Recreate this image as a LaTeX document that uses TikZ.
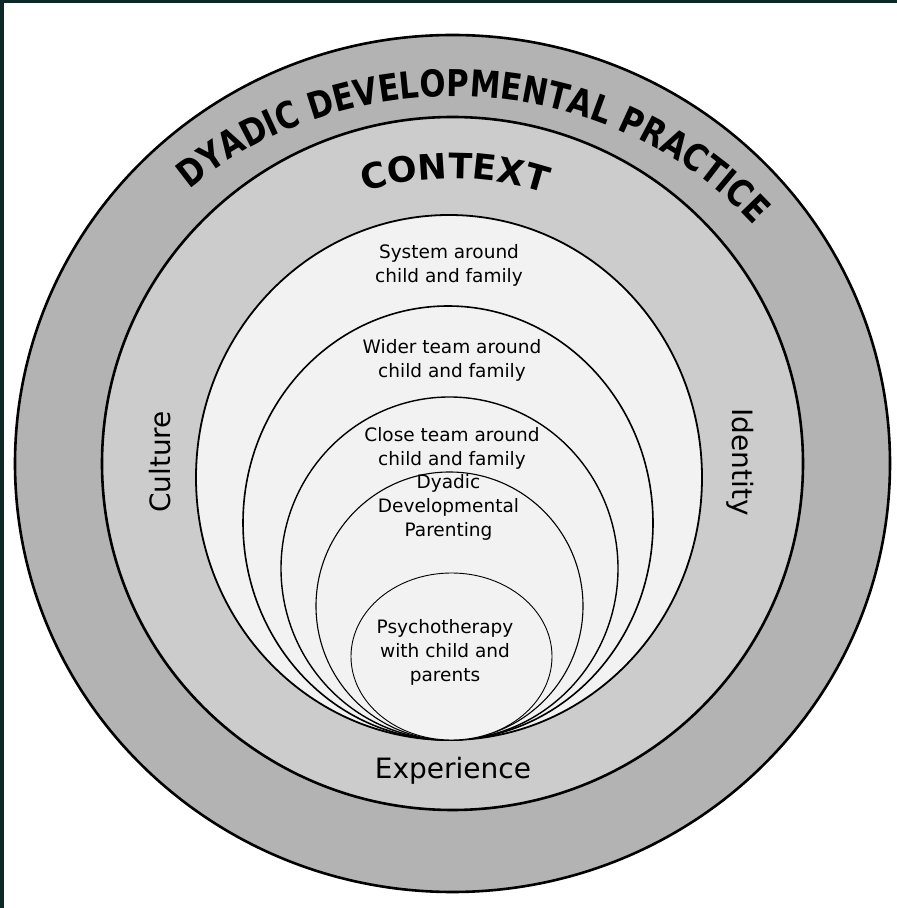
\documentclass[tikz,border=0pt]{standalone}
\usepackage{fontspec}
\setmainfont{DejaVu Sans}
\newfontfamily\arcfam{DejaVu Sans}[FakeStretch=0.83]
\usepackage{tikz}
\usetikzlibrary{decorations.text,positioning}

\definecolor{ringdark}{HTML}{B3B3B3}
\definecolor{ringlight}{HTML}{CCCCCC}
\definecolor{innerfill}{HTML}{F2F2F2}
\definecolor{framecol}{HTML}{0E2828}
\newcommand\arcstyle{\arcfam\bfseries\fontsize{37}{42}\selectfont}
\newcommand\ctxstyle{\bfseries\fontsize{35}{40}\selectfont}

\begin{document}
\begin{tikzpicture}
[x=1pt,y=1pt%
,ring/.style={draw=black,%
              line width=2.6pt}%
,layer/.style={draw=black,%
               fill=innerfill}%
,sidetext/.style={font=\fontsize{28}{34}\selectfont,%
                  inner sep=0pt}%
,layertext/.style={font=\fontsize{18.5}{24}\selectfont,%
                   align=center,%
                   inner sep=0pt}]
\useasboundingbox (0,0) rectangle (897,908);
\fill[white] (0,0) rectangle (897,908);
\fill[framecol] (0,905) rectangle (897,908);
\fill[framecol] (0,0) rectangle (4,908);

\coordinate (c) at (452.5,444.5);
% the two outer rings
\draw[ring,fill=ringdark] (c) ellipse [x radius=437.5,y radius=428.5];
\draw[ring,fill=ringlight] (c) ellipse [x radius=350.5,y radius=346.5];

% nested layers, all touching at the bottom
\draw[layer,line width=1.8pt] (449,430.5) ellipse [x radius=253,y radius=262.5];
\draw[layer,line width=1.6pt] (448,385) ellipse [x radius=205,y radius=217];
\draw[layer,line width=1.4pt] (449.5,339.5) ellipse [x radius=168.5,y radius=171.5];
\draw[layer,line width=1.1pt] (449.5,302) ellipse [x radius=133.5,y radius=134];
\draw[layer,line width=0.9pt] (451.5,251.5) ellipse [x radius=100.5,y radius=83.5];

% curved titles
\path[shift={(c)},decorate,%
      decoration={text along path,text align=center,%
                  text={|\arcstyle|DYADIC DEVELOPMENTAL PRACTICE}}]
  (146:396 and 367) arc [start angle=146,end angle=26,x radius=396,y radius=367];
\path[shift={(c)},decorate,%
      decoration={text along path,text align=center,%
                  text={|\ctxstyle|CONTEXT}}]
  (124:290 and 285) arc [start angle=124,end angle=55,x radius=290,y radius=285];

\node[sidetext,rotate=90] (culture) at (160,446) {Culture};
\node[sidetext,rotate=-90] (identity) at (740,446) {Identity};
\node[sidetext] (experience) at (453,137) {Experience};

\node[layertext] (system) at (449,643) {System around\\child and family};
\node[layertext] (wider) at (452,548) {Wider team around\\child and family};
\node[layertext] (close) at (452,460) {Close team around\\child and family};
\node[layertext] (dyadic) at (448.5,401) {Dyadic\\Developmental\\Parenting};
\node[layertext] (psycho) at (445,255.5) {Psychotherapy\\with child and\\parents};
\end{tikzpicture}
\end{document}
